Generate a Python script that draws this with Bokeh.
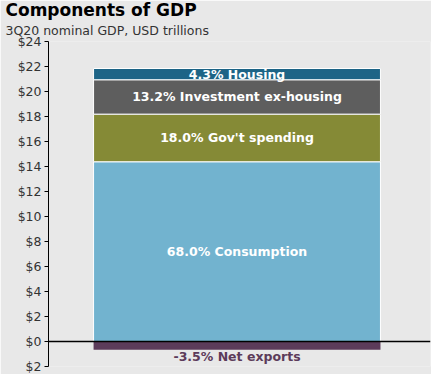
from bokeh.plotting import figure
from bokeh.models import Range1d, FixedTicker, Span, Title, ColumnDataSource
from bokeh.embed import file_html
from bokeh.resources import INLINE

# Data (USD trillions, 3Q20)
categories = ["Consumption", "Gov't spending", "Investment ex-housing", "Housing"]
values = [14.38, 3.81, 2.75, 0.90]
labels = ["68.0% Consumption", "18.0% Gov't spending", "13.2% Investment ex-housing", "4.3% Housing"]
colors = ["#72b3cf", "#858a36", "#5e5e5e", "#1d6486"]
net_exports_value = -0.65
net_exports_label = "-3.5% Net exports"
tick_values = [-2, 0, 2, 4, 6, 8, 10, 12, 14, 16, 18, 20, 22, 24]
tick_labels = ["$2", "$0", "$2", "$4", "$6", "$8", "$10", "$12", "$14", "$16", "$18", "$20", "$22", "$24"]
title_text = "Components of GDP"
subtitle_text = "3Q20 nominal GDP, USD trillions"

bottoms = []
tops = []
acc = 0.0
for v in values:
    bottoms.append(acc)
    acc += v
    tops.append(acc)
mids = [(b + t) / 2 for b, t in zip(bottoms, tops)]

FONT = "DejaVu Sans"
BG = "#e8e8e8"
p = figure(width=431, height=374, output_backend="svg", toolbar_location=None,
           x_range=Range1d(0, 1), y_range=Range1d(-2, 24),
           min_border_left=48, min_border_right=1, min_border_bottom=8, min_border_top=0)
p.background_fill_color = BG
p.border_fill_color = BG
p.outline_line_color = None
p.grid.visible = False
p.xaxis.visible = False

p.yaxis.ticker = FixedTicker(ticks=tick_values)
p.yaxis.major_label_overrides = {v: l for v, l in zip(tick_values, tick_labels)}
p.yaxis.minor_tick_line_color = None
p.yaxis.major_tick_out = 4
p.yaxis.major_tick_in = 0
p.yaxis.major_label_standoff = 3
p.yaxis.axis_line_color = "black"
p.yaxis.major_tick_line_color = "black"
p.yaxis.major_label_text_font = FONT
p.yaxis.major_label_text_font_size = "12.5px"
p.yaxis.major_label_text_color = "#333333"

src = ColumnDataSource(dict(x=[0.4935] * len(values), bottom=bottoms, top=tops,
                            color=colors, mid=mids, label=labels))
p.vbar(x="x", width=0.751, bottom="bottom", top="top", fill_color="color",
       line_color="white", line_width=1, source=src)
p.vbar(x=[0.4935], width=0.751, bottom=[0], top=[net_exports_value],
       fill_color="#5c3b5a", line_color=None)

p.text(x="x", y="mid", text="label", source=src, text_align="center", text_baseline="middle",
       text_color="white", text_font_size="12.5px", text_font_style="bold",
       text_font={"value": FONT})
p.text(x=[0.4935], y=[net_exports_value - 0.52], text=[net_exports_label], text_align="center",
       text_baseline="middle", text_color="#5c3b5a", text_font_size="12.5px",
       text_font_style="bold", text_font={"value": FONT})

p.add_layout(Span(location=0, dimension="width", line_color="black", line_width=1.5))

p.add_layout(Title(text=subtitle_text, text_font_size="12.5px",
                   text_font=FONT, text_font_style="normal", text_color="#333333",
                   offset=-43, standoff=7), "above")
p.add_layout(Title(text=title_text, text_font_size="17px", text_font=FONT,
                   text_font_style="bold", text_color="black", offset=-43, standoff=-5), "above")

open("out.html", "w").write(file_html(p, INLINE))
